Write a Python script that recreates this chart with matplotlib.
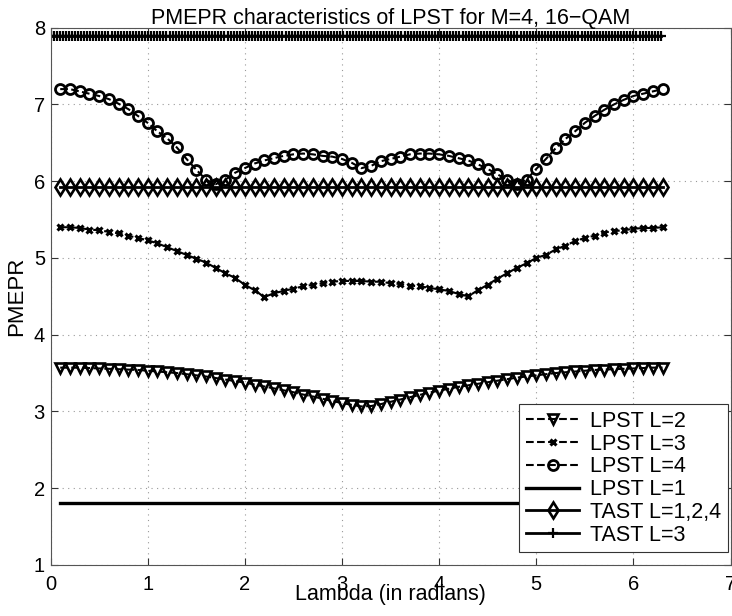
import numpy as np
import matplotlib
matplotlib.use("Agg")
import matplotlib.pyplot as plt

plt.rcParams['font.family'] = ['Liberation Sans', 'DejaVu Sans']

# ---- data ----
lam = np.round(np.arange(1, 64) * 0.1, 1)          # 0.1 ... 6.3
lam_tast3 = np.linspace(0, 2 * np.pi, 201)

lpst_L2 = [3.57, 3.57, 3.57, 3.565, 3.56, 3.555, 3.55, 3.545, 3.54, 3.53,
           3.52, 3.51, 3.50, 3.485, 3.47, 3.455, 3.435, 3.415, 3.395, 3.375,
           3.35, 3.325, 3.30, 3.275, 3.25, 3.22, 3.195, 3.165, 3.135, 3.11,
           3.085, 3.065, 3.07, 3.095, 3.125, 3.155, 3.185, 3.215, 3.245, 3.27,
           3.295, 3.32, 3.34, 3.36, 3.38, 3.40, 3.42, 3.44, 3.455, 3.47,
           3.485, 3.50, 3.51, 3.52, 3.53, 3.54, 3.545, 3.55, 3.555, 3.56,
           3.565, 3.57, 3.57]

lpst_L3 = [5.40, 5.40, 5.39, 5.37, 5.36, 5.34, 5.32, 5.29, 5.26, 5.23,
           5.19, 5.14, 5.09, 5.04, 4.99, 4.94, 4.87, 4.80, 4.74, 4.65,
           4.58, 4.49, 4.54, 4.57, 4.60, 4.63, 4.65, 4.67, 4.69, 4.70,
           4.70, 4.70, 4.69, 4.69, 4.67, 4.66, 4.64, 4.63, 4.61, 4.59,
           4.57, 4.53, 4.50, 4.58, 4.65, 4.73, 4.80, 4.87, 4.93, 5.00,
           5.04, 5.11, 5.16, 5.22, 5.26, 5.29, 5.33, 5.35, 5.36, 5.38,
           5.39, 5.39, 5.40]

lpst_L4 = [7.20, 7.20, 7.17, 7.14, 7.11, 7.07, 7.01, 6.94, 6.85, 6.76,
           6.65, 6.56, 6.44, 6.29, 6.15, 6.02, 5.96, 6.02, 6.11, 6.17,
           6.23, 6.27, 6.30, 6.33, 6.35, 6.36, 6.35, 6.33, 6.32, 6.29,
           6.24, 6.17, 6.20, 6.26, 6.29, 6.32, 6.35, 6.36, 6.36, 6.35,
           6.33, 6.30, 6.27, 6.22, 6.16, 6.09, 6.02, 5.96, 6.02, 6.16,
           6.29, 6.43, 6.55, 6.65, 6.76, 6.85, 6.93, 7.00, 7.06, 7.11,
           7.14, 7.17, 7.20]

lpst_L1_value = 1.80
tast_124_value = 5.92
tast_3_value = 7.89

labels = ["LPST L=2", "LPST L=3", "LPST L=4", "LPST L=1", "TAST L=1,2,4", "TAST L=3"]
xticks = [0, 1, 2, 3, 4, 5, 6, 7]
yticks = [1, 2, 3, 4, 5, 6, 7, 8]

# ---- figure ----
fig = plt.figure(figsize=(7.32, 6.16), dpi=100)
ax = fig.add_axes([0.069, 0.083, 0.929, 0.872])

k = 'black'
ax.plot(lam, lpst_L2, linestyle='--', color=k, lw=1.5, marker='v', ms=7.5,
        mew=1.9, mfc='none', mec=k, label=labels[0])
ax.plot(lam, lpst_L3, linestyle='--', color=k, lw=1.5, marker='x', ms=5.0,
        mew=2.2, mec=k, label=labels[1])
ax.plot(lam, lpst_L4, linestyle='--', color=k, lw=1.5, marker='o', ms=7.2,
        mew=2.0, mfc='none', mec=k, label=labels[2])
ax.plot(lam, np.full(len(lam), lpst_L1_value), linestyle='-', color=k, lw=2.4,
        label=labels[3])
ax.plot(lam, np.full(len(lam), tast_124_value), linestyle='-', color=k, lw=2.0,
        marker='d', ms=8.5, mew=1.9, mfc='none', mec=k, label=labels[4])
ax.plot(lam_tast3, np.full(len(lam_tast3), tast_3_value), linestyle='-', color=k,
        lw=2.0, marker='+', ms=7, mew=1.6, mec=k, label=labels[5])

ax.set_xlim(0, 7)
ax.set_ylim(1, 8)
ax.set_xticks(xticks)
ax.set_yticks(yticks)
ax.tick_params(axis='both', direction='in', top=True, right=True, labelsize=14.5,
               length=5, width=0.8, color='#333333')
ax.tick_params(axis='x', pad=7)
ax.tick_params(axis='y', pad=4)
for s in ax.spines.values():
    s.set_color('#555555')
    s.set_linewidth(0.8)
ax.grid(True, linestyle=(0, (1, 4)), color='#999999', linewidth=0.8)

ax.set_title("PMEPR characteristics of LPST for M=4, 16\u2212QAM", fontsize=15.5, pad=3)
ax.set_xlabel("Lambda (in radians)", fontsize=15.5, labelpad=-7)
ax.set_ylabel("PMEPR", fontsize=16, labelpad=5)

leg = ax.legend(loc='lower right', bbox_to_anchor=(0.996, 0.024), fontsize=15.5,
                frameon=True, fancybox=False, framealpha=1, edgecolor='#333333',
                handlelength=2.5, handletextpad=0.5, borderpad=0.3,
                labelspacing=0.08, borderaxespad=0)
leg.get_frame().set_linewidth(0.8)

fig.savefig("out.png", dpi=100)
